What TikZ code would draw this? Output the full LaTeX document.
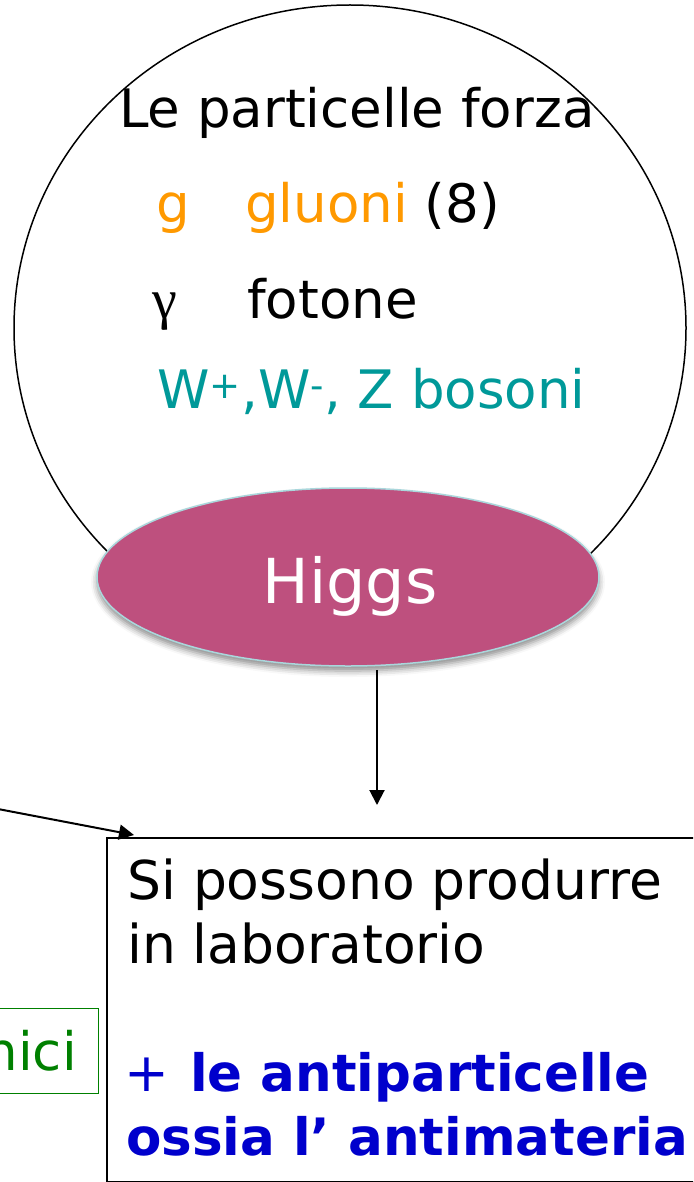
\documentclass[tikz,border=0pt]{standalone}
\usepackage{fontspec}
\setmainfont{DejaVu Sans}
\newfontfamily\serifg{Liberation Serif}
\usetikzlibrary{shapes.geometric,shadows.blur,arrows.meta}
\definecolor{orng}{RGB}{255,153,0}
\definecolor{teal2}{RGB}{0,153,153}
\definecolor{blu}{RGB}{0,0,204}
\definecolor{grn}{RGB}{0,128,0}
\definecolor{higgsfill}{RGB}{190,80,126}
\definecolor{higgsedge}{RGB}{170,215,220}
\begin{document}
\begin{tikzpicture}[x=1pt,y=-1pt,
  txt/.style={anchor=base west,inner sep=0pt,font=\fontsize{53}{62}\selectfont},
  btxt/.style={anchor=base west,inner sep=0pt,font=\fontsize{53.5}{62}\selectfont},
  bold/.style={anchor=base west,inner sep=0pt,text=blu,font=\fontsize{51.5}{62}\selectfont\bfseries},
  arr/.style={-{Triangle[length=15pt,width=15pt]},line width=2pt}]
\clip (0,0) rectangle (693,1182);
% big circle
\node[ellipse, draw, line width=1.5pt, minimum width=672pt, minimum height=646pt, inner sep=0pt] (circ) at (350,328) {};
% texts in circle
\node[txt] (title) at (119,128) {Le particelle forza};
\node[txt, text=orng] (g) at (156,223) {g};
\node[txt] (gluoni) at (245,223) {\textcolor{orng}{gluoni} (8)};
\node[txt, font=\fontsize{56}{60}\selectfont\serifg] (gamma) at (152,318) {γ};
\node[txt] (fotone) at (247,318) {fotone};
\node[txt, text=teal2] (wz) at (157,408) {W\textsuperscript{+},W\textsuperscript{-}, Z bosoni};
% Higgs
\node[ellipse, fill=higgsfill, draw=higgsedge, line width=1.5pt, minimum width=502pt, minimum height=178pt, inner sep=0pt,
  blur shadow={shadow xshift=0pt, shadow yshift=-5pt, shadow blur radius=6pt, shadow opacity=45}] (higgs) at (348,577) {};
\node[anchor=base, inner sep=0pt, text=white, font=\fontsize{62}{70}\selectfont] (higgslbl) at (350,603) {Higgs};
% box
\node[draw, line width=1.5pt, anchor=north west, minimum width=620pt, minimum height=344pt, inner sep=0pt] (box) at (106,837) {};
\node[btxt] (l1) at (127,899) {Si possono produrre};
\node[btxt] (l2) at (127,963) {in laboratorio};
\node[btxt, text=blu] (plus) at (124,1091) {+};
\node[bold] (l3) at (190,1091) {le antiparticelle};
\node[bold] (l4) at (126,1155) {ossia l’ antimateria};
% green box
\node[draw=grn, line width=1.2pt, anchor=north east, minimum width=130pt, minimum height=85pt, inner sep=0pt] (gbox) at (99,1008) {};
\node[anchor=base east, inner sep=0pt, text=grn, font=\fontsize{53}{62}\selectfont] (nici) at (77,1070) {nici};
% arrows
\coordinate (a1s) at (377,670);
\coordinate (a1e) at (377,805);
\draw[arr] (a1s) -- (a1e);
\coordinate (a2s) at (-2,809);
\coordinate (a2e) at (134,835);
\draw[arr] (a2s) -- (a2e);
\end{tikzpicture}
\end{document}
